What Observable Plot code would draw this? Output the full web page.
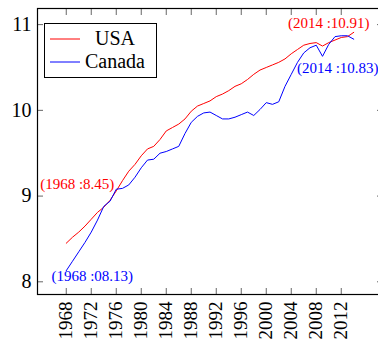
<!DOCTYPE html>
<html>
<head>
<meta charset="utf-8">
<script src="https://cdn.jsdelivr.net/npm/d3@7"></script>
<script src="https://cdn.jsdelivr.net/npm/@observablehq/plot@0.6"></script>
<style>
  html, body { margin: 0; padding: 0; background: #fff; }
  svg { display: block; }
</style>
</head>
<body>
<div id="chart"></div>
<script>
// Log income per year, 1968–2014
const years = d3.range(1968, 2015);

const usa = [
  8.45, 8.52, 8.58, 8.65, 8.73, 8.81, 8.87, 8.95, 9.06, 9.18,
  9.29, 9.37, 9.47, 9.55, 9.58, 9.66, 9.76, 9.80, 9.84, 9.90,
  9.99, 10.05, 10.08, 10.11, 10.16, 10.19, 10.23, 10.28, 10.31, 10.36,
  10.42, 10.47, 10.50, 10.53, 10.56, 10.60, 10.66, 10.71, 10.76, 10.78,
  10.79, 10.75, 10.79, 10.82, 10.85, 10.86, 10.91
];

const canada = [
  8.13, 8.24, 8.35, 8.46, 8.58, 8.72, 8.88, 8.94, 9.08, 9.09,
  9.13, 9.22, 9.33, 9.42, 9.43, 9.50, 9.52, 9.55, 9.58, 9.73,
  9.86, 9.93, 9.97, 9.98, 9.94, 9.90, 9.90, 9.92, 9.95, 9.98,
  9.94, 10.01, 10.09, 10.07, 10.10, 10.28, 10.42, 10.56, 10.67, 10.73,
  10.76, 10.63, 10.77, 10.86, 10.87, 10.87, 10.83
];

const xTicks = [1968, 1972, 1976, 1980, 1984, 1988, 1992, 1996, 2000, 2004, 2008, 2012];
const yTicks = [8, 9, 10, 11];

const seriesNames = ["USA", "Canada"];
const seriesColors = ["#ff0000", "#0000ff"];
const seriesValues = [usa, canada];
// number format used in each series' end-point labels
const seriesFormats = [".2f", "05.2f"];

const rows = seriesNames.flatMap((name, s) =>
  years.map((year, i) => ({series: name, year, value: seriesValues[s][i]}))
);

// axis limits enlarged by 10% of the data range on each side
const xExt = d3.extent(years);
const yExt = d3.extent(rows, d => d.value);
const xPad = (xExt[1] - xExt[0]) * 0.1;
const yPad = (yExt[1] - yExt[0]) * 0.1;

const serif = "'Liberation Serif', 'DejaVu Serif', serif";

// end-point annotations: first and last value of each series, with offsets
function endLabel(s, i, dx, dy) {
  const fmt = d3.format(seriesFormats[s]);
  const d = {year: years[i], value: seriesValues[s][i]};
  return Plot.text([d], {
    x: "year", y: "value",
    text: p => `(${p.year} :${fmt(p.value)})`,
    fill: seriesColors[s], fontSize: 15, fontFamily: serif,
    dx, dy
  });
}

const last = years.length - 1;

const chart = Plot.plot({
  width: 378,
  height: 340,
  marginLeft: 37,
  marginRight: -4,
  marginTop: 8,
  marginBottom: 46,
  x: {domain: [xExt[0] - xPad, xExt[1] + xPad]},
  y: {domain: [yExt[0] - yPad, yExt[1] + yPad]},
  style: {fontFamily: serif, background: "#fff", color: "#000"},
  marks: [
    // tick labels
    Plot.axisX(xTicks, {anchor: "bottom", tickSize: 0, tickPadding: 7, tickRotate: -90,
      fontSize: 19, tickFormat: d => String(d), label: null}),
    Plot.axisY(yTicks, {anchor: "left", tickSize: 0, tickPadding: 6,
      fontSize: 20, tickFormat: d => String(d), label: null}),
    // inward ticks on all four sides
    Plot.axisX(xTicks, {anchor: "bottom", tickSize: -6, fill: "none", stroke: "#555", strokeWidth: 0.9, label: null}),
    Plot.axisX(xTicks, {anchor: "top", tickSize: -6, fill: "none", stroke: "#555", strokeWidth: 0.9, label: null}),
    Plot.axisY(yTicks, {anchor: "left", tickSize: -6, fill: "none", stroke: "#555", strokeWidth: 0.9, label: null}),
    Plot.axisY(yTicks, {anchor: "right", tickSize: -6, fill: "none", stroke: "#555", strokeWidth: 0.9, label: null}),
    // series lines
    ...seriesNames.map((name, s) =>
      Plot.line(rows.filter(d => d.series === name), {
        x: "year", y: "value", stroke: seriesColors[s], strokeWidth: 1
      })
    ),
    endLabel(0, 0, 11, -59),
    endLabel(1, 0, 26, 6),
    endLabel(0, last, -25, -9),
    endLabel(1, last, -16, 29),
    Plot.frame({stroke: "#000", strokeWidth: 1.2})
  ]
});

// legend box in the upper-left corner of the plot area
const svg = d3.select(chart);
const legend = svg.append("g").attr("font-family", serif).attr("font-size", 20);
legend.append("rect")
  .attr("x", 44.5).attr("y", 23.5).attr("width", 112).attr("height", 54)
  .attr("fill", "#fff").attr("stroke", "#000").attr("stroke-width", 1);
seriesNames.forEach((name, s) => {
  const cy = 39 + s * 23;
  legend.append("line")
    .attr("x1", 50).attr("x2", 80).attr("y1", cy).attr("y2", cy)
    .attr("stroke", seriesColors[s]).attr("stroke-width", 1);
  legend.append("text")
    .attr("x", 115).attr("y", cy).attr("dy", "0.32em")
    .attr("text-anchor", "middle").attr("fill", "#000")
    .text(name);
});

document.getElementById("chart").appendChild(chart);
</script>
</body>
</html>
